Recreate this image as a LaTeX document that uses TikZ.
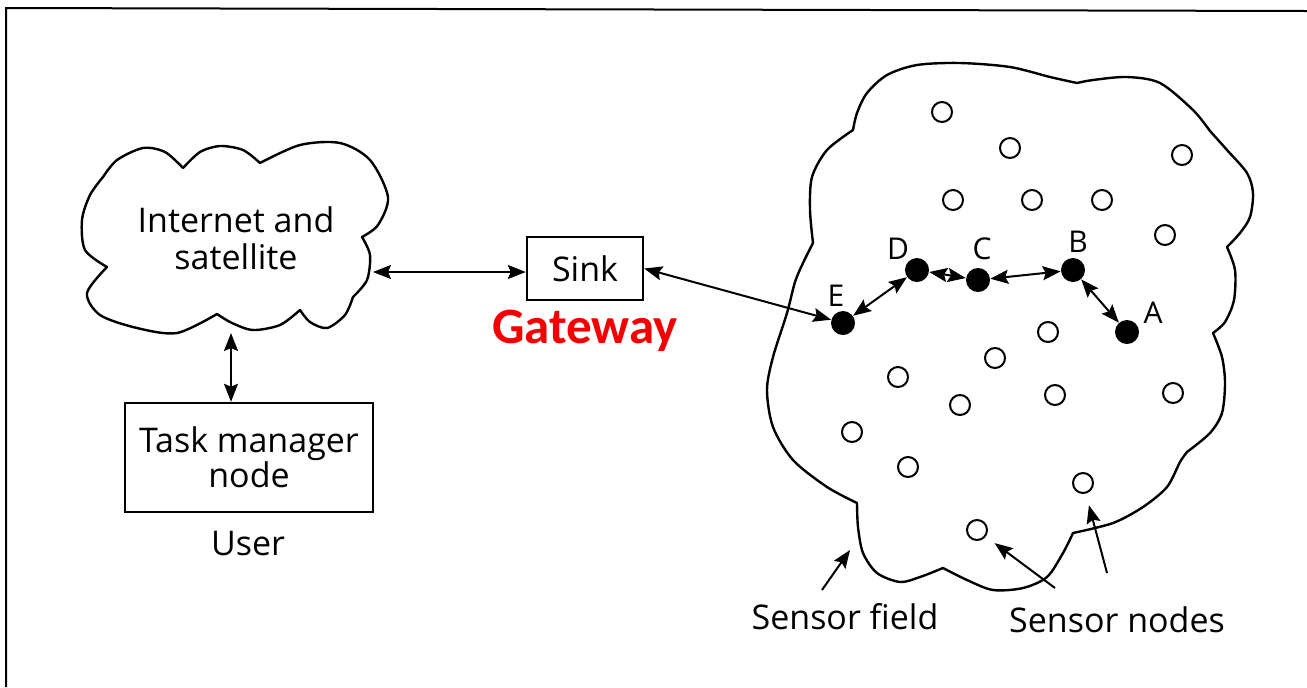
\documentclass[tikz,border=0pt]{standalone}
\usepackage{fontspec}
\setmainfont{Open Sans}
\newfontfamily\gwfont{Carlito}
\usetikzlibrary{arrows.meta}
\definecolor{gwred}{RGB}{245,0,0}
\begin{document}
\begin{tikzpicture}[x=0.5pt,y=-0.5pt,
  outline/.style={line width=1.2pt, line join=round},
  box/.style={draw, line width=1.2pt, inner sep=0pt, align=center, font=\fontsize{17}{17.5}\selectfont},
  lbl/.style={font=\fontsize{17}{18.5}\selectfont, inner sep=0pt, align=center},
  letter/.style={font=\fontsize{15}{17}\selectfont, inner sep=0pt},
  sensor/.style={circle, draw, line width=1pt, minimum size=10pt, inner sep=0pt},
  relay/.style={circle, fill=black, minimum size=12pt, inner sep=0pt},
  link/.style={<->, line width=1pt},
  pointer/.style={->, line width=1pt},
  >={Stealth[length=9pt,width=7pt,inset=1.5pt]}
]
\useasboundingbox (0,0) rectangle (1307,687);

% page frame
\draw[line width=1pt] (6,687) -- (6,8) -- (1307,11);

% Internet and satellite cloud
\draw[outline]
  plot[smooth] coordinates {(103,177) (117,160) (143,148) (165,152) (183,168)}
  -- plot[smooth] coordinates {(183,168) (200,152) (220,146) (243,150) (260,163)}
  -- plot[smooth] coordinates {(260,163) (300,145) (340,143) (370,160) (388,197) (378,225) (362,237)}
  -- plot[smooth] coordinates {(362,237) (370,255) (367,280) (353,297)}
  -- plot[smooth] coordinates {(353,297) (345,315) (327,328) (310,322) (300,310)}
  -- plot[smooth] coordinates {(300,310) (280,325) (253,330) (232,323) (217,314)}
  -- plot[smooth] coordinates {(217,314) (177,333) (137,328) (100,315) (87,293) (107,267)}
  -- plot[smooth] coordinates {(107,267) (85,250) (82,220) (90,195) (103,177)}
  -- cycle;
\node[lbl] (inet) at (236,238) {Internet and\\satellite};
\coordinate (inetE) at (373,272);
\coordinate (inetS) at (231,333);

% sink and task manager
\node[box, minimum width=58pt, minimum height=31.5pt] (sink) at (585,268.5) {Sink};
\node[font=\gwfont\bfseries\fontsize{25.5}{27}\selectfont, text=gwred, inner sep=0pt] (gw) at (585,331) {Gateway};
\node[box, minimum width=124pt, minimum height=54.5pt] (task) at (249,457.5) {Task manager\\node};
\node[lbl] (user) at (248,544) {User};

\draw[link] (inetE) -- (inetE -| sink.west);
\draw[link] (inetS) -- (inetS |- task.north);

% sensor field outline
\draw[outline]
  plot[smooth] coordinates {(853,130) (857,113) (867,93) (887,75) (917,65) (960,63) (1010,67) (1050,77) (1077,83)}
  -- plot[smooth] coordinates {(1077,83) (1093,80) (1127,77) (1160,83) (1193,110) (1210,131)}
  -- plot[smooth] coordinates {(1210,131) (1227,150) (1247,173) (1253,193) (1250,217) (1240,233) (1227,247)}
  -- plot[smooth] coordinates {(1227,247) (1235,270) (1234,300) (1225,322) (1213,333)}
  -- plot[smooth] coordinates {(1213,333) (1222,357) (1225,383) (1222,413) (1210,433) (1187,452)}
  -- plot[smooth] coordinates {(1187,452) (1180,462) (1167,487) (1143,507) (1113,523) (1073,533)}
  -- plot[smooth] coordinates {(1073,533) (1063,553) (1047,577) (1023,588) (993,590) (967,580) (943,568)}
  -- plot[smooth] coordinates {(943,568) (920,577) (900,582) (877,573) (863,553) (858,527) (857,503)}
  -- plot[smooth] coordinates {(857,503) (827,487) (793,460) (773,427) (767,390) (773,357) (787,313) (795,282) (803,263) (813,243)}
  -- plot[smooth] coordinates {(813,243) (810,210) (812,177) (827,150) (853,130)}
  -- cycle;

% idle sensor nodes
\foreach \p [count=\i] in {(942,112),(1010,148),(1182,155),(953,200),(1032,200),(1102,200),(1165,235),
  (1048,332),(995,358),(898,377),(960,405),(1055,395),(1173,393),(852,432),(908,467),(1083,483),(977,530)}
  \node[sensor] (s\i) at \p {};

% relaying nodes A to E
\node[relay] (E) at (843,323) {};
\node[relay] (D) at (917,270) {};
\node[relay] (C) at (978,280) {};
\node[relay] (B) at (1073,270) {};
\node[relay] (A) at (1127,332) {};
\node[letter] (lE) at (836,296) {E};
\node[letter] (lD) at (898,249) {D};
\node[letter] (lC) at (982,249) {C};
\node[letter] (lB) at (1078,242) {B};
\node[letter] (lA) at (1153,313) {A};

\draw[link] (sink.east) -- (E);
\draw[link] (E) -- (D);
\draw[link] (D) -- (C);
\draw[link] (C) -- (B);
\draw[link] (B) -- (A);

% captions and pointers
\node[lbl] (sfield) at (845,617) {Sensor field};
\node[lbl] (snodes) at (1117,620) {Sensor nodes};
\coordinate (sfTail) at (822,590);
\coordinate (sfTip) at (850,550);
\coordinate (snTail1) at (1055,588);
\coordinate (snTail2) at (1107,573);
\draw[pointer] (sfTail) -- (sfTip);
\draw[pointer, shorten >=5.5pt] (snTail1) -- (s17);
\draw[pointer, shorten >=6pt] (snTail2) -- (s16);
\end{tikzpicture}
\end{document}
